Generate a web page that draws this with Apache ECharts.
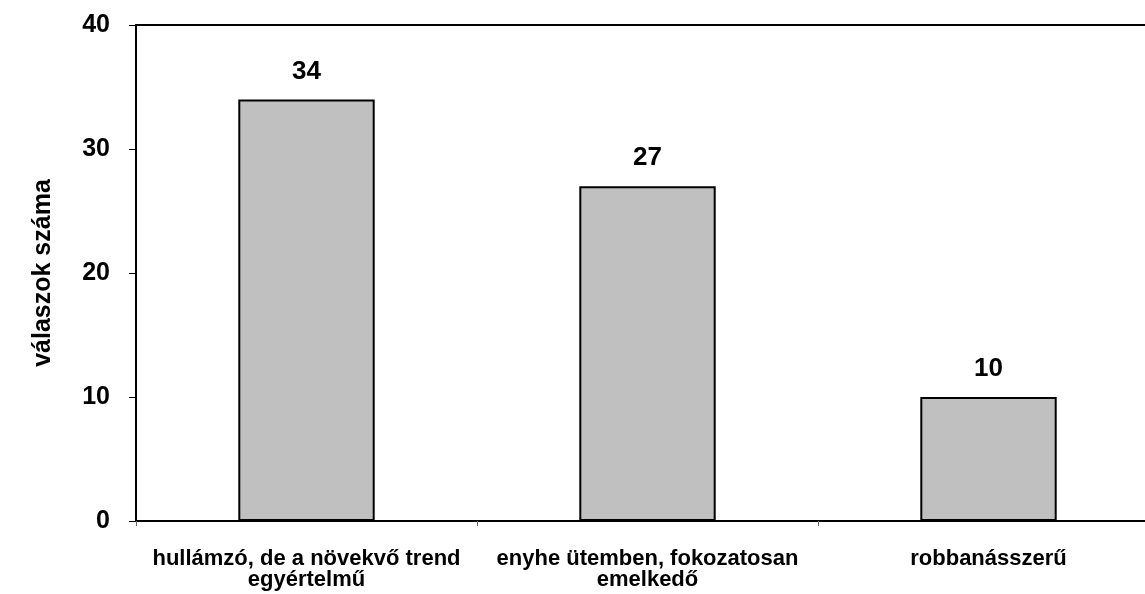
<!DOCTYPE html>
<html>
<head>
<meta charset="utf-8">
<script src="https://cdn.jsdelivr.net/npm/echarts@6/dist/echarts.min.js"></script>
<style>
  html, body { margin: 0; padding: 0; background: #fff; }
  #chart { width: 1145px; height: 594px; }
</style>
</head>
<body>
<div id="chart"></div>
<script>
const categories = [
  "hullámzó, de a növekvő trend\negyértelmű",
  "enyhe ütemben, fokozatosan\nemelkedő",
  "robbanásszerű",
];
const counts = [34, 27, 10];
const yTicks = [0, 10, 20, 30, 40];

const font = "Liberation Sans, Arial, sans-serif";

const chart = echarts.init(document.getElementById("chart"));
chart.setOption({
  animation: false,
  grid: {
    left: 136,
    width: 1023,
    top: 25,
    bottom: 73,
    outerBoundsMode: "none",
    containLabel: false,
  },
  xAxis: [
    {
      type: "category",
      data: categories,
      axisLine: { lineStyle: { color: "#000", width: 2 } },
      axisTick: { show: true, length: 5, lineStyle: { color: "#666", width: 1 } },
      axisLabel: {
        interval: 0,
        hideOverlap: false,
        color: "#000",
        fontFamily: font,
        fontWeight: "bold",
        fontSize: 22,
        lineHeight: 21,
        margin: 27,
      },
    },
    {
      // top frame line only
      type: "category",
      position: "top",
      data: categories,
      axisLine: { show: true, lineStyle: { color: "#000", width: 2 } },
      axisTick: { show: false },
      axisLabel: { show: false },
    },
  ],
  yAxis: {
    type: "value",
    min: yTicks[0],
    max: yTicks[yTicks.length - 1],
    interval: 10,
    name: "válaszok száma",
    nameLocation: "middle",
    nameGap: 80,
    nameRotate: 90,
    nameTextStyle: {
      color: "#000",
      fontFamily: font,
      fontWeight: "bold",
      fontSize: 25,
    },
    axisLine: { show: true, lineStyle: { color: "#000", width: 2 } },
    axisTick: { show: true, length: 7, lineStyle: { color: "#000", width: 1 } },
    splitLine: { show: false },
    axisLabel: {
      color: "#000",
      fontFamily: font,
      fontWeight: "bold",
      fontSize: 25,
      margin: 26,
    },
  },
  series: [
    {
      type: "bar",
      data: counts,
      barWidth: "40%",
      itemStyle: { color: "#c0c0c0", borderColor: "#000", borderWidth: 2 },
      label: {
        show: true,
        position: "top",
        distance: 15,
        color: "#000",
        fontFamily: font,
        fontWeight: "bold",
        fontSize: 26,
      },
    },
  ],
});
</script>
</body>
</html>
